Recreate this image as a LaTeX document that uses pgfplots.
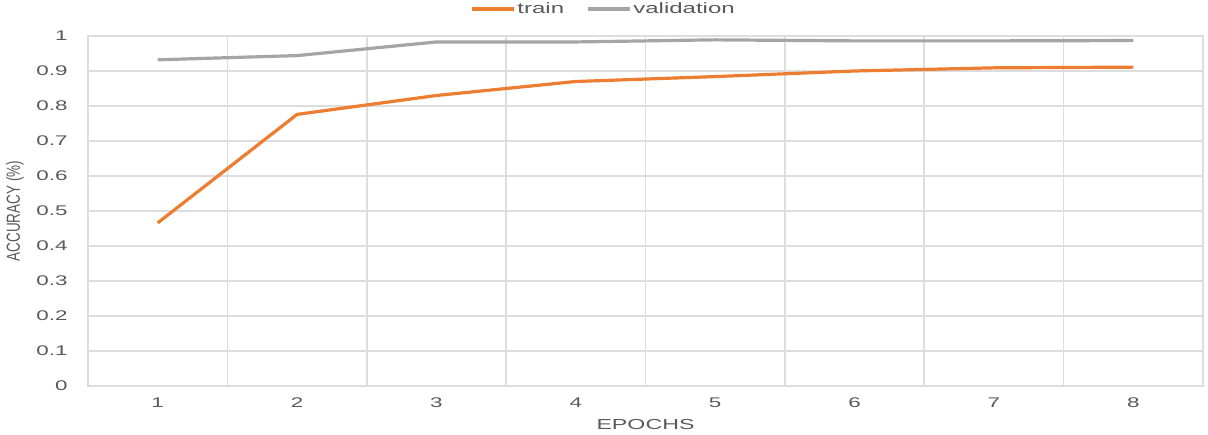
\documentclass[border=0pt]{standalone}
\usepackage{fontspec}
\setmainfont[FakeStretch=1.6]{Liberation Sans}
\newfontfamily\plainsans{Liberation Sans}
\usepackage{pgfplots}
\pgfplotsset{compat=1.18}
\definecolor{trainorange}{HTML}{ED7D31}
\definecolor{valgray}{HTML}{A5A5A5}
\definecolor{gridgray}{HTML}{DDDDDD}
\definecolor{textgray}{HTML}{595959}

\begin{document}
\begin{tikzpicture}
\begin{axis}[
  scale only axis,
  width=1115pt, height=350pt,
  xmin=0.5, xmax=8.5,
  ymin=0, ymax=1,
  xtick={1,2,3,4,5,6,7,8},
  ytick={0,0.1,0.2,0.3,0.4,0.5,0.6,0.7,0.8,0.9,1},
  minor xtick={1.5,2.5,3.5,4.5,5.5,6.5,7.5},
  major tick length=0pt, minor tick length=0pt,
  ymajorgrids=true, xminorgrids=true,
  grid style={gridgray, line width=1.6pt},
  minor grid style={gridgray, line width=1.6pt},
  axis line style={gridgray, line width=1.6pt},
  /pgf/number format/assume math mode=true,
  yticklabel style={/pgf/number format/fixed, /pgf/number format/precision=1,
                    font=\fontsize{14}{16}\selectfont, text=textgray, xshift=-17pt},
  xticklabel style={font=\fontsize{14}{16}\selectfont, text=textgray, yshift=-8pt},
  xlabel={EPOCHS},
  xlabel style={at={(axis description cs:0.5,0)}, anchor=center, yshift=-39pt,
                font=\fontsize{14.5}{16}\selectfont, text=textgray},
  ylabel={\plainsans\scalebox{1}[1.4]{ACCURACY (\%)}},
  ylabel style={at={(axis description cs:0,0.5)}, anchor=center,
                yshift=73pt, font=\fontsize{13.5}{15}\selectfont, text=textgray},
  legend columns=2,
  legend style={at={(axis description cs:0.5,1)}, anchor=center,
                xshift=-42pt, yshift=27pt, draw=none, fill=none,
                font=\fontsize{15}{17}\selectfont, text=textgray,
                /tikz/every even column/.append style={column sep=20pt}},
  legend image code/.code={\draw[#1] (0pt,0pt) -- (42pt,0pt);},
]
\addplot[trainorange, line width=3.2pt] coordinates {
  (1,0.466) (2,0.776) (3,0.830) (4,0.870) (5,0.884) (6,0.900) (7,0.909) (8,0.911)
};
\addlegendentry{train}
\addplot[valgray, line width=3.2pt] coordinates {
  (1,0.932) (2,0.944) (3,0.983) (4,0.983) (5,0.989) (6,0.986) (7,0.986) (8,0.987)
};
\addlegendentry{validation}
\end{axis}
\pgfresetboundingbox
\path[use as bounding box] ([xshift=-88pt,yshift=-49pt]current axis.south west)
  rectangle ([xshift=5pt,yshift=36pt]current axis.north east);
\end{tikzpicture}
\end{document}
